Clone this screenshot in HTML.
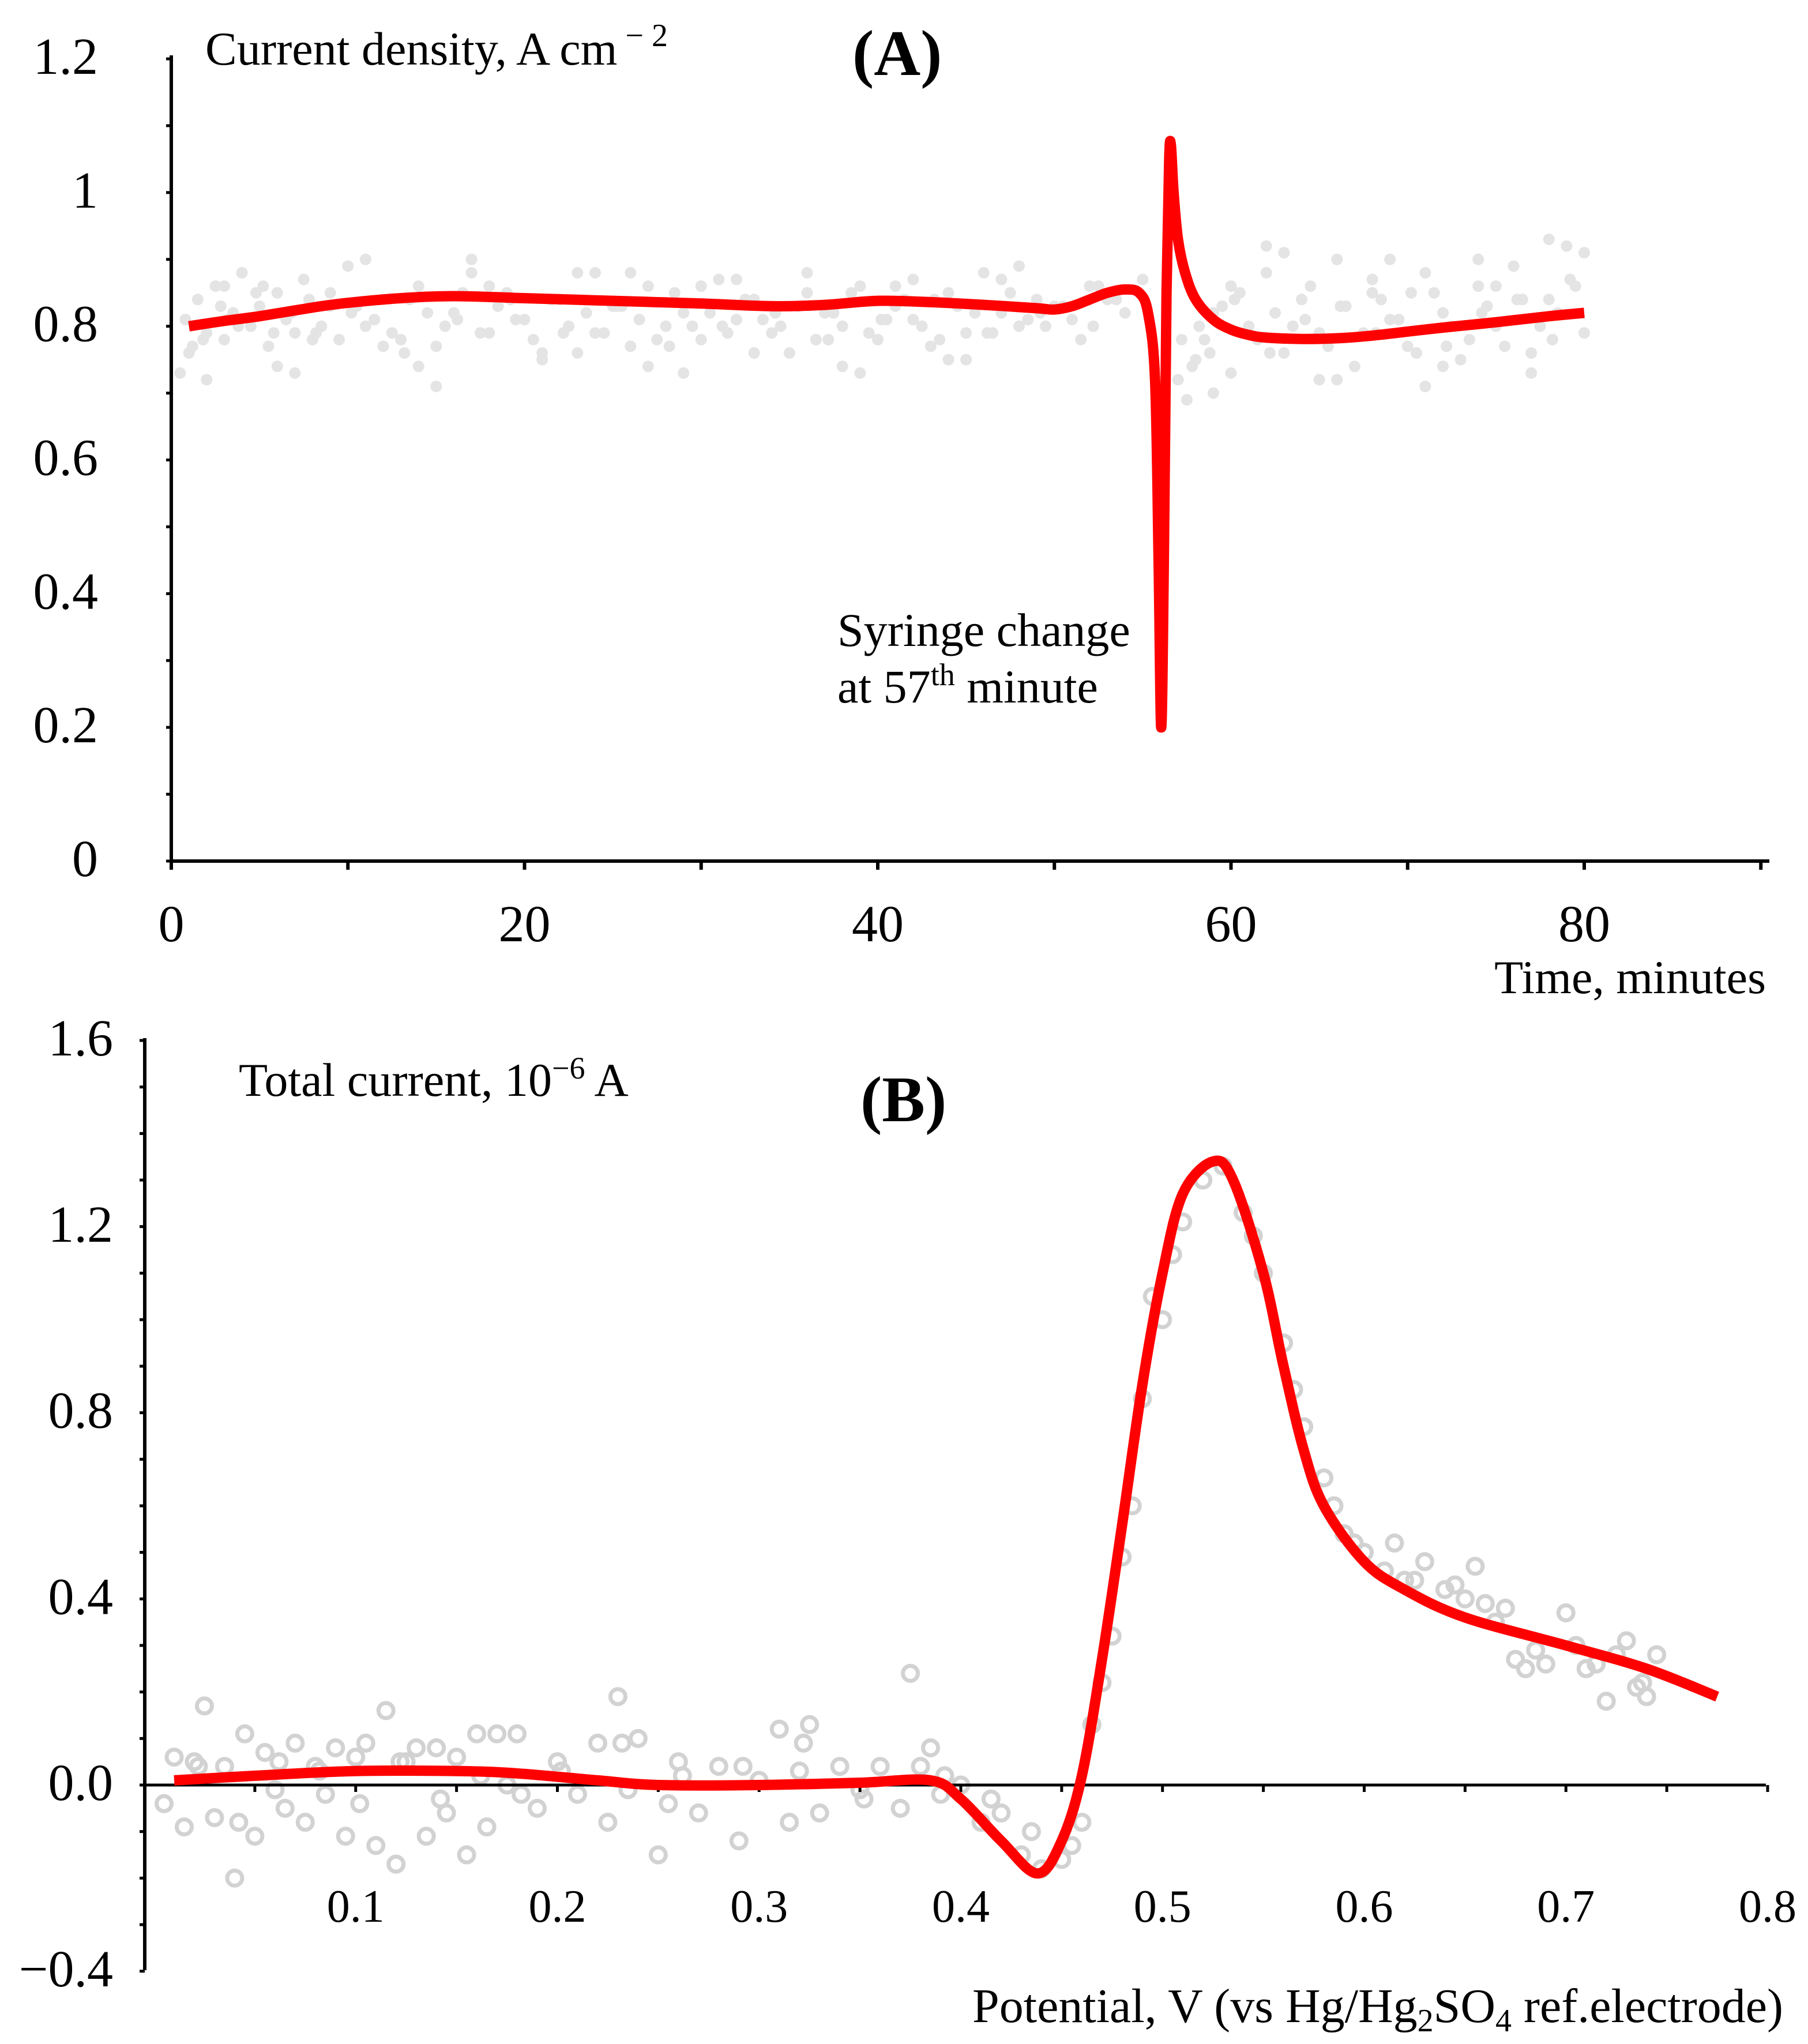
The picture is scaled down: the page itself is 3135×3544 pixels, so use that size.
<!DOCTYPE html>
<html><head><meta charset="utf-8"><style>
html,body{margin:0;padding:0;background:#fff}
svg{display:block}
text{font-family:"Liberation Serif",serif;fill:#000}
</style></head><body>
<svg id="s" width="3135" height="3544" viewBox="0 0 3135 3544" xmlns="http://www.w3.org/2000/svg">
<g id="pa"></g>
<g id="pb"></g>
</svg>
<script>
// Panel A data
const aCurveT=[1,3,5,8,10,13,16,20,25,30,34,37,40,43,46,49,50,51,52,53,54,54.8,55.3,55.7,55.9,56.05,56.2,56.35,56.5,56.6,56.75,57,57.4,58,59,60,61,62,64,66,68,70,72,75,78,80];
const aCurveY=[0.80,0.808,0.815,0.828,0.835,0.842,0.845,0.842,0.838,0.834,0.83,0.832,0.838,0.836,0.832,0.827,0.825,0.83,0.84,0.85,0.855,0.85,0.82,0.72,0.45,0.2,0.45,0.85,1.05,1.07,1.0,0.93,0.88,0.84,0.81,0.795,0.787,0.783,0.781,0.782,0.786,0.792,0.798,0.806,0.815,0.82];
const aScatT=[0.5,1,1.5,2,2.5,3,3.5,4,4.5,5,5.5,6,6.5,7,7.5,8,9,10,11,12,13,14,15,16,17,18,19,20,21,22,23,24,25,26,27,28,29,30,31,32,33,34,35,36,37,38,39,40,41,42,43,44,45,46,47,48,49,50,51,52,53,54,55,57,57.5,58,58.5,59,60,61,62,63,64,65,66,67,68,69,70,71,72,73,74,75,76,77,78,79,80,
 2,4,6,9,12,15,18,21,24,27,30,33,36,39,42,45,48,60,63,66,69,72,75,78,3,7,11,14,17,23,26,29,32,38,41,44,47,59,62,65,68,71,74,77,80,
 0.8,1.8,2.8,3.8,4.8,5.8,6.8,7.8,8.5,9.5,10.5,11.5,12.5,13.5,14.5,15.5,16.5,17.5,18.5,19.5,20.5,21.5,22.5,23.5,24.5,25.5,26.5,27.5,28.5,29.5,30.5,31.5,32.5,33.5,34.5,35.5,36.5,37.5,38.5,39.5,40.5,41.5,42.5,43.5,44.5,45.5,46.5,47.5,48.5,49.5,50.5,51.5,52.5,53.5,57.2,57.8,58.2,58.8,59.5,60.5,61.5,62.5,63.5,64.5,65.5,66.5,67.5,68.5,69.5,70.5,71.5,72.5,73.5,74.5,75.5,76.5,77.5,78.5,79.5,
 1.2,3.2,5.2,8.2,10.2,13.2,16.2,19.2,22.2,25.2,28.2,31.2,34.2,37.2,40.2,43.2,46.2,49.2,52.2,60.2,62.2,64.2,66.2,68.2,70.2,72.2,74.2,76.2,78.2,79.2];
const aScatY=[0.73,0.76,0.84,0.79,0.86,0.78,0.82,0.88,0.80,0.83,0.77,0.85,0.81,0.79,0.87,0.78,0.83,0.89,0.80,0.84,0.78,0.86,0.77,0.82,0.90,0.79,0.85,0.81,0.76,0.84,0.88,0.79,0.83,0.77,0.86,0.80,0.82,0.78,0.87,0.81,0.84,0.79,0.76,0.85,0.82,0.80,0.86,0.78,0.83,0.81,0.77,0.85,0.79,0.88,0.82,0.80,0.84,0.83,0.81,0.86,0.84,0.82,0.87,0.72,0.69,0.75,0.78,0.82,0.86,0.80,0.88,0.76,0.84,0.79,0.90,0.74,0.85,0.81,0.77,0.88,0.82,0.75,0.86,0.80,0.89,0.76,0.84,0.92,0.79,
 0.72,0.88,0.74,0.85,0.77,0.71,0.86,0.75,0.88,0.74,0.86,0.76,0.88,0.73,0.87,0.75,0.89,0.73,0.91,0.72,0.90,0.74,0.86,0.93,0.86,0.73,0.90,0.74,0.88,0.76,0.88,0.73,0.87,0.74,0.86,0.75,0.87,0.70,0.92,0.72,0.87,0.71,0.90,0.73,0.91,
 0.81,0.78,0.83,0.80,0.85,0.79,0.82,0.84,0.80,0.78,0.83,0.81,0.79,0.84,0.82,0.80,0.85,0.79,0.83,0.81,0.78,0.84,0.80,0.82,0.79,0.83,0.81,0.78,0.85,0.80,0.82,0.79,0.84,0.81,0.80,0.83,0.78,0.82,0.85,0.79,0.81,0.84,0.80,0.78,0.83,0.82,0.79,0.85,0.81,0.80,0.83,0.78,0.86,0.84,0.78,0.74,0.80,0.76,0.83,0.85,0.78,0.82,0.80,0.86,0.77,0.83,0.79,0.84,0.81,0.76,0.85,0.80,0.78,0.83,0.77,0.84,0.80,0.82,0.86,
 0.77,0.81,0.86,0.79,0.82,0.76,0.81,0.84,0.79,0.83,0.77,0.80,0.82,0.78,0.81,0.84,0.79,0.82,0.80,0.84,0.76,0.81,0.83,0.79,0.85,0.77,0.82,0.84,0.78,0.87];
const aXTicks=[0,20,40,60,80];
const aYTicks=[0,0.2,0.4,0.6,0.8,1,1.2];
const aYLabels=["0","0.2","0.4","0.6","0.8","1","1.2"];
// Panel B data
const bCurveX=[0.01,0.05,0.1,0.15,0.18,0.22,0.25,0.3,0.35,0.385,0.4,0.42,0.438,0.45,0.46,0.47,0.48,0.49,0.5,0.51,0.525,0.535,0.55,0.56,0.57,0.58,0.6,0.62,0.65,0.7,0.74,0.775];
const bCurveY=[0.01,0.02,0.03,0.03,0.025,0.01,0.0,0.0,0.005,0.01,-0.03,-0.12,-0.19,-0.12,0.02,0.27,0.56,0.86,1.1,1.27,1.34,1.3,1.1,0.9,0.72,0.6,0.48,0.42,0.36,0.3,0.25,0.19];
const bScatX=[0.005,0.01,0.015,0.02,0.025,0.03,0.035,0.04,0.045,0.05,0.055,0.06,0.065,0.07,0.075,0.08,0.085,0.09,0.095,0.1,0.105,0.11,0.115,0.12,0.125,0.13,0.135,0.14,0.145,0.15,0.155,0.16,0.165,0.17,0.175,0.18,0.19,0.2,0.21,0.22,0.225,0.23,0.235,0.24,0.25,0.255,0.26,0.27,0.28,0.29,0.3,0.31,0.315,0.32,0.325,0.33,0.34,0.35,0.36,0.37,0.375,0.38,0.385,0.39,0.4,0.41,0.42,0.43,0.44,0.45,0.455,0.46,0.465,0.47,0.475,0.48,0.485,0.49,0.5,0.505,0.51,0.52,0.53,0.54,0.55,0.56,0.57,0.58,0.585,0.59,0.6,0.61,0.615,0.62,0.63,0.64,0.65,0.655,0.66,0.67,0.675,0.68,0.69,0.7,0.705,0.71,0.72,0.725,0.73,0.735,0.74,0.745,
 0.022,0.042,0.062,0.082,0.102,0.122,0.142,0.162,0.182,0.202,0.232,0.262,0.292,0.322,0.352,0.392,0.415,0.435,0.495,0.545,0.565,0.595,0.625,0.645,0.665,0.685,0.715,0.738];
const bScatY=[-0.04,0.06,-0.09,0.05,0.17,-0.07,0.04,-0.2,0.11,-0.11,0.07,-0.01,-0.05,0.09,-0.08,0.04,-0.02,0.08,-0.11,0.06,0.09,-0.13,0.16,-0.17,0.05,0.08,-0.11,0.08,-0.06,0.06,-0.15,0.11,-0.09,0.11,0.0,0.11,-0.05,0.05,-0.02,0.09,-0.08,0.19,-0.01,0.1,-0.15,-0.04,0.05,-0.06,0.04,-0.12,0.01,0.12,-0.08,0.03,0.13,-0.06,0.04,-0.01,0.04,-0.05,0.24,0.04,0.08,-0.02,0.0,-0.08,-0.06,-0.15,-0.18,-0.16,-0.13,-0.08,0.13,0.22,0.32,0.49,0.6,0.83,1.0,1.14,1.21,1.3,1.33,1.23,1.1,0.95,0.77,0.66,0.6,0.54,0.5,0.46,0.52,0.44,0.48,0.42,0.4,0.47,0.39,0.38,0.27,0.25,0.26,0.37,0.3,0.25,0.18,0.28,0.31,0.21,0.19,0.28,
 0.04,-0.08,0.05,0.03,-0.04,0.05,-0.03,0.02,-0.02,0.03,0.09,0.02,0.04,0.09,-0.03,0.02,-0.03,-0.1,1.05,1.18,0.85,0.52,0.44,0.43,0.35,0.29,0.26,0.22];
const bXTicks=[0.1,0.2,0.3,0.4,0.5,0.6,0.7,0.8];
const bYTicks=[-0.4,0,0.4,0.8,1.2,1.6];
const bYLabels=["\u22120.4","0.0","0.4","0.8","1.2","1.6"];

const NS="http://www.w3.org/2000/svg";
function mk(parent,tag,attrs,txt){const e=document.createElementNS(NS,tag);for(const k in attrs)e.setAttribute(k,attrs[k]);if(txt!==undefined)e.textContent=txt;parent.appendChild(e);return e;}
function smooth(p){let d='M'+p[0][0].toFixed(1)+','+p[0][1].toFixed(1);
for(let i=0;i<p.length-1;i++){const a=p[Math.max(0,i-1)],b=p[i],c=p[i+1],e=p[Math.min(p.length-1,i+2)];
const c1=[b[0]+(c[0]-a[0])/6,b[1]+(c[1]-a[1])/6],c2=[c[0]-(e[0]-b[0])/6,c[1]-(e[1]-b[1])/6];
d+=' C'+c1.map(v=>v.toFixed(1)).join(',')+' '+c2.map(v=>v.toFixed(1)).join(',')+' '+c[0].toFixed(1)+','+c[1].toFixed(1);}
return d;}

const ax=t=>297+t*(2747-297)/80;
const ay=v=>1493-v*(1493-102)/1.2;
const pa=document.getElementById('pa');
for(let i=0;i<aScatT.length;i++){const c=mk(pa,'circle',{cx:ax(aScatT[i]),cy:ay(aScatY[i]),r:10,fill:'#e4e4e4'});

}
let l=mk(pa,'line',{x1:297,y1:96,x2:297,y2:1497,stroke:'#000','stroke-width':6});

l=mk(pa,'line',{x1:294,y1:1493,x2:3068,y2:1493,stroke:'#000','stroke-width':6});

for(let v=0;v<=1.2001;v+=0.1){mk(pa,'line',{x1:288,y1:ay(v),x2:297,y2:ay(v),stroke:'#000','stroke-width':5});}
for(let t=0;t<=90;t+=10){mk(pa,'line',{x1:ax(t),y1:1493,x2:ax(t),y2:1508,stroke:'#000','stroke-width':6});}
for(let i=0;i<aYTicks.length;i++){const e=mk(pa,'text',{x:170,y:ay(aYTicks[i])+26,'font-size':90,'text-anchor':'end'},aYLabels[i]);
}
for(const t of aXTicks){const e=mk(pa,'text',{x:ax(t),y:1632,'font-size':90,'text-anchor':'middle'},String(t));
}
let P=aCurveT.map((t,i)=>[ax(t),ay(aCurveY[i])]);
l=mk(pa,'path',{d:smooth(P),fill:'none',stroke:'#ff0000','stroke-width':18,'stroke-linejoin':'round'});


const bx=x=>267+x*(3065-267)/0.8;
const by=v=>3095-v*(3095-1804)/1.6;
const pb=document.getElementById('pb');
for(let i=0;i<bScatX.length;i++){const c=mk(pb,'circle',{cx:bx(bScatX[i]),cy:by(bScatY[i]),r:13,fill:'none',stroke:'#d2d2d2','stroke-width':7});

}
l=mk(pb,'line',{x1:251,y1:1800,x2:251,y2:3416,stroke:'#000','stroke-width':6});

l=mk(pb,'line',{x1:251,y1:by(0),x2:3062,y2:by(0),stroke:'#000','stroke-width':5});

for(let v=-0.4;v<=1.6001;v+=0.1){mk(pb,'line',{x1:242,y1:by(v),x2:251,y2:by(v),stroke:'#000','stroke-width':5});}
for(let x=0.05;x<=0.8001;x+=0.05){mk(pb,'line',{x1:bx(x),y1:by(0),x2:bx(x),y2:by(0)+12,stroke:'#000','stroke-width':5});}
for(let i=0;i<bYTicks.length;i++){const e=mk(pb,'text',{x:196,y:by(bYTicks[i])+26,'font-size':90,'text-anchor':'end'},bYLabels[i]);
}
for(const x of bXTicks){const e=mk(pb,'text',{x:bx(x),y:3332,'font-size':80,'text-anchor':'middle'},x.toFixed(1));
}
P=bCurveX.map((x,i)=>[bx(x),by(bCurveY[i])]);
l=mk(pb,'path',{d:smooth(P),fill:'none',stroke:'#ff0000','stroke-width':18,'stroke-linejoin':'round'});

</script>
<svg width="3135" height="3544" style="position:absolute;left:0;top:0" xmlns="http://www.w3.org/2000/svg">
<text x="356" y="112" font-size="82">Current density, A cm<tspan dy="-32" font-size="56"> − 2</tspan></text>
<text x="1478" y="130" font-size="112" font-weight="bold">(A)</text>
<text x="1452" y="1120" font-size="82">Syringe change</text>
<text x="1452" y="1218" font-size="82">at 57<tspan dy="-30" font-size="54">th</tspan><tspan dy="30"> minute</tspan></text>
<text x="3062" y="1722" font-size="82" text-anchor="end">Time, minutes</text>
<text x="414" y="1900" font-size="82">Total current, 10<tspan dy="-30" font-size="54">−6</tspan><tspan dy="30"> A</tspan></text>
<text x="1492" y="1944" font-size="112" font-weight="bold">(B)</text>
<text x="3092" y="3506" font-size="84" text-anchor="end">Potential, V (vs Hg/Hg<tspan dy="16" font-size="56">2</tspan><tspan dy="-16">SO</tspan><tspan dy="16" font-size="56">4</tspan><tspan dy="-16"> ref.electrode)</tspan></text>
</svg>
</body></html>
